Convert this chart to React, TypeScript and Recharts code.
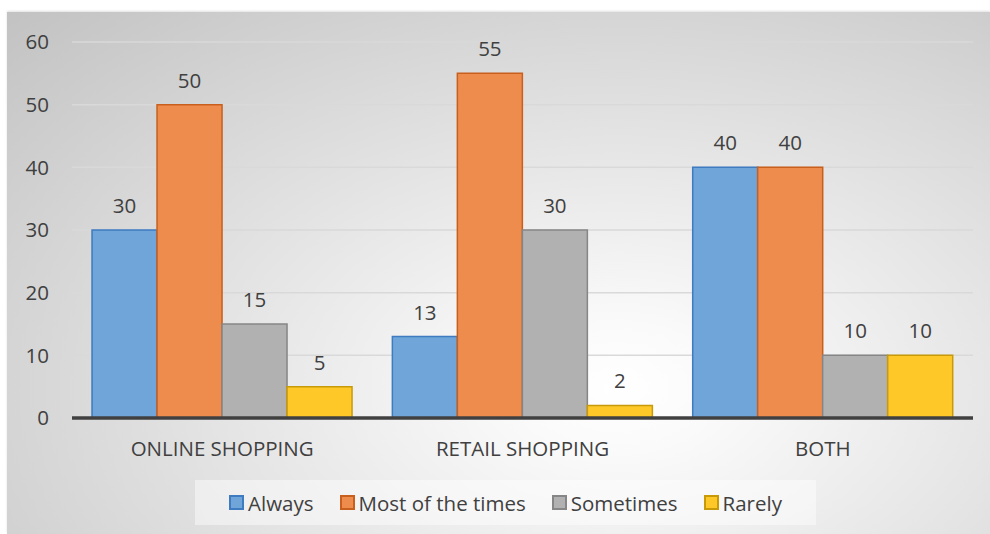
import React from "react";
import { BarChart, Bar, XAxis, YAxis, CartesianGrid, LabelList, Legend } from "recharts";

const categories = ["ONLINE SHOPPING", "RETAIL SHOPPING", "BOTH"];
const always = [30, 13, 40];
const mostOfTheTimes = [50, 55, 40];
const sometimes = [15, 30, 10];
const rarely = [5, 2, 10];
const yTicks = [0, 10, 20, 30, 40, 50, 60];

const seriesMeta = [
  { key: "always", name: "Always", fill: "#6FA5D8", stroke: "#3E7BC0" },
  { key: "most", name: "Most of the times", fill: "#EE8C4E", stroke: "#C95F1C" },
  { key: "sometimes", name: "Sometimes", fill: "#B1B1B1", stroke: "#868686" },
  { key: "rarely", name: "Rarely", fill: "#FEC828", stroke: "#C89A08" },
];

const data = categories.map((c, i) => ({
  category: c,
  always: always[i],
  most: mostOfTheTimes[i],
  sometimes: sometimes[i],
  rarely: rarely[i],
}));

const FONT = "'Open Sans', 'Liberation Sans', sans-serif";
const TEXT = "#404040";
const FS = 20.5;

const LegendContent = () => (
  <div
    style={{
      width: 621,
      height: 45,
      background: "rgba(255,255,255,0.45)",
      display: "flex",
      alignItems: "center",
      justifyContent: "center",
      fontFamily: FONT,
      fontSize: FS,
      color: TEXT,
    }}
  >
    {seriesMeta.map((s, i) => (
      <div key={s.key} style={{ display: "flex", alignItems: "center", marginLeft: i === 0 ? 0 : 26 }}>
        <span
          style={{
            display: "inline-block",
            width: 11,
            height: 11,
            background: s.fill,
            border: `2px solid ${s.stroke}`,
            marginRight: 4,
          }}
        />
        <span>{s.name}</span>
      </div>
    ))}
  </div>
);

export default function App() {
  return (
    <div style={{ position: "absolute", left: 0, top: 0, width: 990, height: 534, background: "#fff" }}>
      <div
        style={{
          position: "absolute",
          left: 7,
          top: 12,
          width: 983,
          height: 522,
          background:
            "radial-gradient(ellipse farthest-corner at 62% 72%, #ffffff 0%, #fafafa 12%, #c2c2c2 100%)",
          boxShadow: "0 -1px 2px rgba(0,0,0,0.12)",
        }}
      />
      <div style={{ position: "absolute", left: 0, top: 0 }}>
        <BarChart
          width={990}
          height={534}
          data={data}
          margin={{ top: 42, right: 17, bottom: 31, left: 12 }}
          barCategoryGap="6.67%"
          barGap={0}
        >
          <CartesianGrid vertical={false} stroke="#d9d9d9" strokeWidth={1.5} horizontalValues={[10, 20, 30, 40, 50, 60]} />
          <XAxis
            dataKey="category"
            height={40}
            tickLine={false}
            tickSize={0}
            tickMargin={23}
            axisLine={{ stroke: "#404040", strokeWidth: 3.5 }}
            tick={{ fill: TEXT, fontSize: FS, fontFamily: FONT }}
          />
          <YAxis
            width={60}
            domain={[0, 60]}
            ticks={yTicks}
            axisLine={false}
            tickLine={false}
            tickSize={0}
            tickMargin={23}
            tick={{ fill: TEXT, fontSize: FS, fontFamily: FONT }}
          />
          {seriesMeta.map((s) => (
            <Bar
              key={s.key}
              dataKey={s.key}
              name={s.name}
              fill={s.fill}
              stroke={s.stroke}
              strokeWidth={1.5}
              isAnimationActive={false}
            >
              <LabelList
                dataKey={s.key}
                position="top"
                offset={17}
                style={{ fill: TEXT, fontSize: FS, fontFamily: FONT }}
              />
            </Bar>
          ))}
          <Legend
            content={<LegendContent />}
            wrapperStyle={{ position: "absolute", left: 195, top: 480, width: 621, height: 45, bottom: "auto" }}
          />
        </BarChart>
      </div>
    </div>
  );
}
